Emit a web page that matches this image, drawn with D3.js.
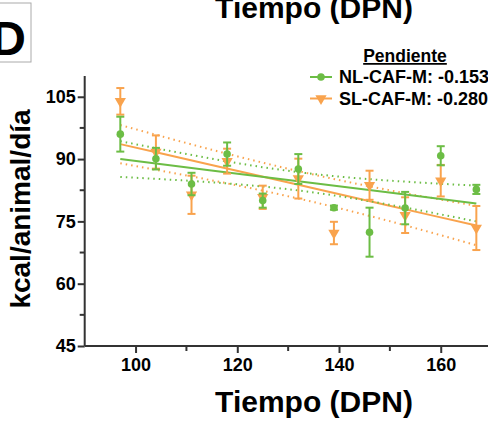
<!DOCTYPE html>
<html>
<head>
<meta charset="utf-8">
<script src="https://cdn.jsdelivr.net/npm/d3@7"></script>
<style>
  body { margin: 0; background: #fff; }
  svg { display: block; font-family: 'Liberation Sans', Arial, sans-serif; }
</style>
</head>
<body>
<div id="chart"></div>
<script>
// days (DPN)
const days = [97, 104, 111, 118, 125, 132, 139, 146, 153, 160, 167];

// NL-CAF-M mean and SEM
const nlMean = [96.0, 90.1, 84.0, 91.2, 80.0, 87.6, 78.3, 72.4, 78.2, 90.8, 82.7];
const nlErr = [4.2, 2.6, 2.7, 2.8, 1.7, 3.6, 0.5, 5.9, 3.9, 2.3, 1.1];

// SL-CAF-M mean and SEM
const slMean = [103.9, 91.7, 81.4, 89.5, 80.8, 85.3, 72.2, 83.7, 76.5, 84.8, 73.4];
const slErr = [3.2, 4.0, 4.6, 3.0, 2.8, 4.8, 2.7, 3.5, 4.3, 3.8, 5.3];

// fitted lines and 95% bands, read at a few x positions
const fitX = [97, 114.5, 132, 149.5, 167];
const nlFit = [90.0, 87.3, 84.65, 82.0, 79.3];
const nlUpper = [94.3, 90.2, 86.85, 84.85, 83.6];
const nlLower = [85.7, 84.45, 82.45, 79.1, 75.0];
const slFit = [93.6, 88.7, 83.8, 78.9, 74.0];
const slUpper = [98.2, 92.4, 87.1, 82.6, 78.75];
const slLower = [89.0, 85.0, 80.5, 75.2, 69.25];

const xTicks = [100, 120, 140, 160];
const xMinor = [110, 130, 150];
const yTicks = [45, 60, 75, 90, 105];
const yMinor = [52.5, 67.5, 82.5, 97.5];

const legendLabels = ['NL-CAF-M: -0.153', 'SL-CAF-M: -0.280'];

const green = '#6cbd45';
const orange = '#f9a34d';
const axisColor = '#333';

const width = 488, height = 423;

const svg = d3.select('#chart').append('svg')
  .attr('width', width)
  .attr('height', height);

var x = d3.scaleLinear().domain([90, 170]).range([84.7, 491.6]);
var y = d3.scaleLinear().domain([45, 110]).range([346, 76]);

// panel letter
svg.append('rect')
  .attr('x', -4).attr('y', 3)
  .attr('width', 35).attr('height', 59)
  .attr('fill', 'none')
  .attr('stroke', '#aaa')
  .attr('stroke-width', 1);
svg.append('text')
  .attr('x', 26).attr('y', 55)
  .attr('text-anchor', 'end')
  .style('font-size', '48px').style('font-weight', 'bold')
  .text('D');

// top title (cut off)
svg.append('text')
  .attr('x', 314).attr('y', 18)
  .attr('text-anchor', 'middle')
  .style('font-size', '30px').style('font-weight', 'bold')
  .text('Tiempo (DPN)');

// axes
var xAxis = d3.axisBottom(x).tickValues(xTicks).tickSize(7).tickPadding(5);
var yAxis = d3.axisLeft(y).tickValues(yTicks).tickSize(7).tickPadding(2);

var gx = svg.append('g')
  .attr('transform', 'translate(0,' + y(45) + ')')
  .call(xAxis);
var gy = svg.append('g')
  .attr('transform', 'translate(' + x(90) + ',0)')
  .call(yAxis);

[gx, gy].forEach(function(g) {
  g.select('.domain').attr('stroke', axisColor).attr('stroke-width', 2);
  g.selectAll('.tick line').attr('stroke', axisColor).attr('stroke-width', 2);
  g.selectAll('.tick text')
    .attr('fill', '#000')
    .style('font-size', '18px')
    .style('font-weight', 'bold')
    .style('font-family', "'Liberation Sans', Arial, sans-serif");
});
gx.select('.domain').attr('d', 'M' + x(90) + ',0H' + (width + 10));
gy.select('.domain').attr('d', 'M0,' + y(45) + 'V' + y(110));

// minor ticks
gx.selectAll('.minor')
  .data(xMinor)
  .enter()
  .append('line')
  .attr('x1', d => x(d)).attr('x2', d => x(d))
  .attr('y1', 0).attr('y2', 5)
  .attr('stroke', axisColor).attr('stroke-width', 2);
gy.selectAll('.minor')
  .data(yMinor)
  .enter()
  .append('line')
  .attr('y1', d => y(d)).attr('y2', d => y(d))
  .attr('x1', 0).attr('x2', -5)
  .attr('stroke', axisColor).attr('stroke-width', 2);

// axis titles
svg.append('text')
  .attr('x', 314).attr('y', 412)
  .attr('text-anchor', 'middle')
  .style('font-size', '30px').style('font-weight', 'bold')
  .text('Tiempo (DPN)');
svg.append('text')
  .attr('transform', 'translate(30,' + 209 + ') rotate(-90)')
  .attr('text-anchor', 'middle')
  .style('font-size', '28px').style('font-weight', 'bold')
  .text('kcal/animal/día');

// fits and bands
var bandLine = d3.line()
  .x(function(d) { return x(d[0]); })
  .y(function(d) { return y(d[1]); })
  .curve(d3.curveNatural);

function drawFit(fit, upper, lower, color) {
  [upper, lower].forEach(function(vals) {
    svg.append('path')
      .attr('d', bandLine(fitX.map((d, i) => [d, vals[i]])))
      .attr('fill', 'none')
      .attr('stroke', color)
      .attr('stroke-width', 2)
      .attr('stroke-dasharray', '1.5,4');
  });
  svg.append('path')
    .attr('d', bandLine(fitX.map((d, i) => [d, fit[i]])))
    .attr('fill', 'none')
    .attr('stroke', color)
    .attr('stroke-width', 2);
}

drawFit(slFit, slUpper, slLower, orange);
drawFit(nlFit, nlUpper, nlLower, green);

// error bars and markers
var triangle = d3.symbol().type(d3.symbolTriangle).size(55);
var circle = d3.symbol().type(d3.symbolCircle).size(45);

function drawSeries(means, errs, color, sym, flip) {
  var g = svg.append('g');
  var pts = days.map((d, i) => ({ x: d, m: means[i], e: errs[i] }));
  var bars = g.selectAll('.bar').data(pts).enter().append('g');
  bars.append('line')
    .attr('x1', d => x(d.x)).attr('x2', d => x(d.x))
    .attr('y1', d => y(d.m + d.e)).attr('y2', d => y(d.m - d.e))
    .attr('stroke', color).attr('stroke-width', 2);
  [1, -1].forEach(function(s) {
    bars.append('line')
      .attr('x1', d => x(d.x) - 4).attr('x2', d => x(d.x) + 4)
      .attr('y1', d => y(d.m + s * d.e)).attr('y2', d => y(d.m + s * d.e))
      .attr('stroke', color).attr('stroke-width', 2);
  });
  bars.append('path')
    .attr('d', sym)
    .attr('transform', d => 'translate(' + x(d.x) + ',' + y(d.m) + ')' + (flip ? ' rotate(180)' : ''))
    .attr('fill', color);
}

drawSeries(slMean, slErr, orange, triangle, true);
drawSeries(nlMean, nlErr, green, circle, false);

// legend
svg.append('text')
  .attr('x', 405).attr('y', 62)
  .attr('text-anchor', 'middle')
  .style('font-size', '17.5px').style('font-weight', 'bold')
  .style('text-decoration', 'underline')
  .text('Pendiente');

var legendColors = [green, orange];
var legendSyms = [circle, triangle];
legendLabels.forEach(function(label, i) {
  var ly = 77 + i * 21.5;
  svg.append('line')
    .attr('x1', 310).attr('x2', 332)
    .attr('y1', ly).attr('y2', ly)
    .attr('stroke', legendColors[i]).attr('stroke-width', 2);
  svg.append('path')
    .attr('d', legendSyms[i])
    .attr('transform', 'translate(321,' + ly + ')' + (i === 1 ? ' rotate(180)' : ''))
    .attr('fill', legendColors[i]);
  svg.append('text')
    .attr('x', 339).attr('y', ly + 6)
    .style('font-size', '18px').style('font-weight', 'bold')
    .text(label);
});
</script>
</body>
</html>
